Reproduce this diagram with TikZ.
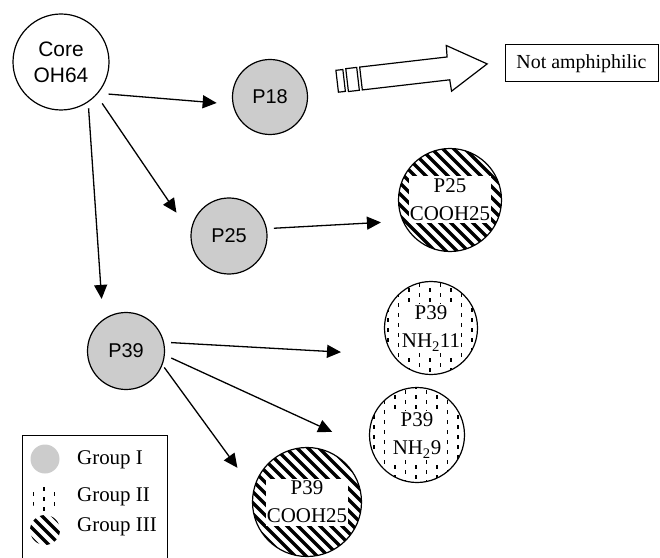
\documentclass[tikz,border=0pt]{standalone}
\usepackage{fontspec}
\setmainfont{Liberation Serif}
\setsansfont{Liberation Sans}
\usepackage{tikz}
\usetikzlibrary{arrows.meta,calc}

\definecolor{gry}{gray}{0.8}
% white band behind the two text lines of a patterned circle
\newcommand{\wlbl}[2]{\makebox[0pt]{\setlength{\fboxsep}{1bp}\colorbox{white}{\renewcommand{\arraystretch}{0}%
	\begin{tabular}{@{}c@{}}\rule[-7bp]{0pt}{22bp}#1\\\rule[-2bp]{0pt}{23bp}#2\end{tabular}}}}

\tikzset{
	>={Triangle[length=14bp,width=13bp]},
	conn/.style={->,line width=1.3bp},
	core/.style={circle,draw,line width=1.2bp,minimum size=96bp,inner sep=0pt,align=center,font=\sffamily\fontsize{21}{26}\selectfont},
	grpone/.style={circle,fill=gry,inner sep=0pt},
	grptwo/.style={circle,inner sep=0pt,path picture={
		\foreach \i in {-64,-43,...,64}
			\draw[line width=1.1bp,dash pattern=on 4bp off 6bp] ([xshift=\i*1bp,yshift=70bp]path picture bounding box.center) -- ++(0bp,-140bp);
		\foreach \i in {-53.5,-32.5,...,54}
			\draw[line width=1.1bp,dash pattern=on 4bp off 6bp,dash phase=5bp] ([xshift=\i*1bp,yshift=70bp]path picture bounding box.center) -- ++(0bp,-140bp);}},
	grpthree/.style={circle,inner sep=0pt,path picture={
		\foreach \i in {-12,...,12}
			\draw[line width=3.4bp] ([xshift=\i*11bp-70bp,yshift=70bp]path picture bounding box.center) -- ++(140bp,-140bp);}},
	poly/.style={draw,line width=1.2bp,font=\sffamily\fontsize{20}{24}\selectfont},
	mixed/.style={draw,line width=1.2bp,font=\fontsize{21}{28}\selectfont},
	keytxt/.style={anchor=west,inner sep=0pt,font=\fontsize{21}{25}\selectfont},
}

\begin{document}
\begin{tikzpicture}[x=1bp,y=-1bp]
\useasboundingbox (0,0) rectangle (660,558);
%core and first generation
\path (61,62) node[core] (core) {Core\\OH64};
\path (270,97) node[grpone,poly,minimum size=75bp] (p18) {P18};
\path (229,236) node[grpone,poly,minimum size=76bp] (p25) {P25};
\path (126,351) node[grpone,poly,minimum size=77bp] (p39) {P39};
%modified
\path (450,200) node[grpthree,mixed,minimum size=103bp] (c25) {\wlbl{P25}{COOH25}};
\path (431,328) node[grptwo,mixed,minimum size=93bp] (n11) {\wlbl{P39}{NH\textsubscript{2}11}};
\path (417,435) node[grptwo,mixed,minimum size=95bp] (n9) {\wlbl{P39}{NH\textsubscript{2}9}};
\path (307,502) node[grpthree,mixed,minimum size=109bp] (c39) {\wlbl{P39}{COOH25}};
\path (581.5,63.5) node[draw,line width=1bp,minimum width=153bp,minimum height=37bp,inner sep=0pt,font=\fontsize{20}{24}\selectfont] (na) {Not amphiphilic};
%arrows
\draw[conn,shorten <=10.5bp,shorten >=16bp] (core.-40) -- (p18.191);
\draw[conn,shorten <=10bp,shorten >=25bp] (core.-43) -- (p25.176);
\draw[conn,shorten <=6bp,shorten >=20.5bp] (core.-56) -- (p39.126);
\draw[conn,shorten <=7bp,shorten >=21.5bp] (p25.11) -- (c25.204);
\draw[conn,shorten <=7bp,shorten >=51.5bp] (p39.13) -- (n11.215);
\draw[conn,shorten <=7bp,shorten >=43bp] (p39.-6) -- (n9.198);
\draw[conn,shorten <=3bp,shorten >=27bp] (p39.-21) -- (c39.167);
%big arrow
\begin{scope}[shift={(361,78.5)},rotate=6.6,line width=1.2bp]
	\draw (0,-11.5) -- (88,-11.5) -- (88.5,-23) -- (127,0) -- (88.5,23) -- (88,11.5) -- (0,11.5) -- cycle;
	\draw (-14,-11.5) rectangle (-3,11.5) (-24,-11) rectangle (-17,11);
\end{scope}
%key
\draw[line width=1bp] (22,435) rectangle (167,575);
\path (45,459) node[grpone,minimum size=29bp] (k1) {}
	(77,460) node[keytxt] (k1t) {Group I};
\path (45,497) node[grptwo,minimum size=29bp] (k2) {}
	(77,497) node[keytxt] (k2t) {Group II};
\path (45,530) node[grpthree,minimum size=30bp] (k3) {}
	(77,527) node[keytxt] (k3t) {Group III};
\end{tikzpicture}
\end{document}
